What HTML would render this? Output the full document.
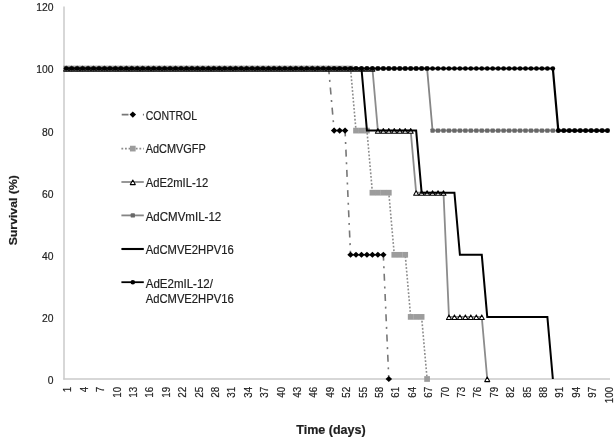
<!DOCTYPE html><html><head><meta charset="utf-8"><style>html,body{margin:0;padding:0;background:#fff;}svg{display:block;will-change:transform;}text{font-family:"Liberation Sans",sans-serif;}</style></head><body>
<svg width="616" height="441" viewBox="0 0 616 441">
<rect width="616" height="441" fill="#fff"/>
<line x1="64" y1="6.4" x2="64" y2="379.6" stroke="#cacaca" stroke-width="1.5"/>
<line x1="63.3" y1="379" x2="610" y2="379" stroke="#cacaca" stroke-width="1.5"/>
<text x="53.4" y="383.9" font-size="11.3" fill="#1e1e1e" stroke="#1e1e1e" stroke-width="0.2" text-anchor="end" textLength="5.75" lengthAdjust="spacingAndGlyphs">0</text>
<text x="53.4" y="321.8" font-size="11.3" fill="#1e1e1e" stroke="#1e1e1e" stroke-width="0.2" text-anchor="end" textLength="11.5" lengthAdjust="spacingAndGlyphs">20</text>
<text x="53.4" y="259.7" font-size="11.3" fill="#1e1e1e" stroke="#1e1e1e" stroke-width="0.2" text-anchor="end" textLength="11.5" lengthAdjust="spacingAndGlyphs">40</text>
<text x="53.4" y="197.6" font-size="11.3" fill="#1e1e1e" stroke="#1e1e1e" stroke-width="0.2" text-anchor="end" textLength="11.5" lengthAdjust="spacingAndGlyphs">60</text>
<text x="53.4" y="135.5" font-size="11.3" fill="#1e1e1e" stroke="#1e1e1e" stroke-width="0.2" text-anchor="end" textLength="11.5" lengthAdjust="spacingAndGlyphs">80</text>
<text x="53.4" y="73.4" font-size="11.3" fill="#1e1e1e" stroke="#1e1e1e" stroke-width="0.2" text-anchor="end" textLength="17.25" lengthAdjust="spacingAndGlyphs">100</text>
<text x="53.4" y="11.3" font-size="11.3" fill="#1e1e1e" stroke="#1e1e1e" stroke-width="0.2" text-anchor="end" textLength="17.25" lengthAdjust="spacingAndGlyphs">120</text>
<text transform="translate(67.3 386.9) rotate(-90)" font-size="10.8" fill="#1e1e1e" stroke="#1e1e1e" stroke-width="0.2" text-anchor="end" dominant-baseline="central" textLength="5.45" lengthAdjust="spacingAndGlyphs">1</text>
<text transform="translate(83.7 386.9) rotate(-90)" font-size="10.8" fill="#1e1e1e" stroke="#1e1e1e" stroke-width="0.2" text-anchor="end" dominant-baseline="central" textLength="5.45" lengthAdjust="spacingAndGlyphs">4</text>
<text transform="translate(100.11 386.9) rotate(-90)" font-size="10.8" fill="#1e1e1e" stroke="#1e1e1e" stroke-width="0.2" text-anchor="end" dominant-baseline="central" textLength="5.45" lengthAdjust="spacingAndGlyphs">7</text>
<text transform="translate(116.51 386.9) rotate(-90)" font-size="10.8" fill="#1e1e1e" stroke="#1e1e1e" stroke-width="0.2" text-anchor="end" dominant-baseline="central" textLength="10.9" lengthAdjust="spacingAndGlyphs">10</text>
<text transform="translate(132.92 386.9) rotate(-90)" font-size="10.8" fill="#1e1e1e" stroke="#1e1e1e" stroke-width="0.2" text-anchor="end" dominant-baseline="central" textLength="10.9" lengthAdjust="spacingAndGlyphs">13</text>
<text transform="translate(149.32 386.9) rotate(-90)" font-size="10.8" fill="#1e1e1e" stroke="#1e1e1e" stroke-width="0.2" text-anchor="end" dominant-baseline="central" textLength="10.9" lengthAdjust="spacingAndGlyphs">16</text>
<text transform="translate(165.72 386.9) rotate(-90)" font-size="10.8" fill="#1e1e1e" stroke="#1e1e1e" stroke-width="0.2" text-anchor="end" dominant-baseline="central" textLength="10.9" lengthAdjust="spacingAndGlyphs">19</text>
<text transform="translate(182.13 386.9) rotate(-90)" font-size="10.8" fill="#1e1e1e" stroke="#1e1e1e" stroke-width="0.2" text-anchor="end" dominant-baseline="central" textLength="10.9" lengthAdjust="spacingAndGlyphs">22</text>
<text transform="translate(198.53 386.9) rotate(-90)" font-size="10.8" fill="#1e1e1e" stroke="#1e1e1e" stroke-width="0.2" text-anchor="end" dominant-baseline="central" textLength="10.9" lengthAdjust="spacingAndGlyphs">25</text>
<text transform="translate(214.94 386.9) rotate(-90)" font-size="10.8" fill="#1e1e1e" stroke="#1e1e1e" stroke-width="0.2" text-anchor="end" dominant-baseline="central" textLength="10.9" lengthAdjust="spacingAndGlyphs">28</text>
<text transform="translate(231.34 386.9) rotate(-90)" font-size="10.8" fill="#1e1e1e" stroke="#1e1e1e" stroke-width="0.2" text-anchor="end" dominant-baseline="central" textLength="10.9" lengthAdjust="spacingAndGlyphs">31</text>
<text transform="translate(247.74 386.9) rotate(-90)" font-size="10.8" fill="#1e1e1e" stroke="#1e1e1e" stroke-width="0.2" text-anchor="end" dominant-baseline="central" textLength="10.9" lengthAdjust="spacingAndGlyphs">34</text>
<text transform="translate(264.15 386.9) rotate(-90)" font-size="10.8" fill="#1e1e1e" stroke="#1e1e1e" stroke-width="0.2" text-anchor="end" dominant-baseline="central" textLength="10.9" lengthAdjust="spacingAndGlyphs">37</text>
<text transform="translate(280.55 386.9) rotate(-90)" font-size="10.8" fill="#1e1e1e" stroke="#1e1e1e" stroke-width="0.2" text-anchor="end" dominant-baseline="central" textLength="10.9" lengthAdjust="spacingAndGlyphs">40</text>
<text transform="translate(296.96 386.9) rotate(-90)" font-size="10.8" fill="#1e1e1e" stroke="#1e1e1e" stroke-width="0.2" text-anchor="end" dominant-baseline="central" textLength="10.9" lengthAdjust="spacingAndGlyphs">43</text>
<text transform="translate(313.36 386.9) rotate(-90)" font-size="10.8" fill="#1e1e1e" stroke="#1e1e1e" stroke-width="0.2" text-anchor="end" dominant-baseline="central" textLength="10.9" lengthAdjust="spacingAndGlyphs">46</text>
<text transform="translate(329.76 386.9) rotate(-90)" font-size="10.8" fill="#1e1e1e" stroke="#1e1e1e" stroke-width="0.2" text-anchor="end" dominant-baseline="central" textLength="10.9" lengthAdjust="spacingAndGlyphs">49</text>
<text transform="translate(346.17 386.9) rotate(-90)" font-size="10.8" fill="#1e1e1e" stroke="#1e1e1e" stroke-width="0.2" text-anchor="end" dominant-baseline="central" textLength="10.9" lengthAdjust="spacingAndGlyphs">52</text>
<text transform="translate(362.57 386.9) rotate(-90)" font-size="10.8" fill="#1e1e1e" stroke="#1e1e1e" stroke-width="0.2" text-anchor="end" dominant-baseline="central" textLength="10.9" lengthAdjust="spacingAndGlyphs">55</text>
<text transform="translate(378.98 386.9) rotate(-90)" font-size="10.8" fill="#1e1e1e" stroke="#1e1e1e" stroke-width="0.2" text-anchor="end" dominant-baseline="central" textLength="10.9" lengthAdjust="spacingAndGlyphs">58</text>
<text transform="translate(395.38 386.9) rotate(-90)" font-size="10.8" fill="#1e1e1e" stroke="#1e1e1e" stroke-width="0.2" text-anchor="end" dominant-baseline="central" textLength="10.9" lengthAdjust="spacingAndGlyphs">61</text>
<text transform="translate(411.78 386.9) rotate(-90)" font-size="10.8" fill="#1e1e1e" stroke="#1e1e1e" stroke-width="0.2" text-anchor="end" dominant-baseline="central" textLength="10.9" lengthAdjust="spacingAndGlyphs">64</text>
<text transform="translate(428.19 386.9) rotate(-90)" font-size="10.8" fill="#1e1e1e" stroke="#1e1e1e" stroke-width="0.2" text-anchor="end" dominant-baseline="central" textLength="10.9" lengthAdjust="spacingAndGlyphs">67</text>
<text transform="translate(444.59 386.9) rotate(-90)" font-size="10.8" fill="#1e1e1e" stroke="#1e1e1e" stroke-width="0.2" text-anchor="end" dominant-baseline="central" textLength="10.9" lengthAdjust="spacingAndGlyphs">70</text>
<text transform="translate(461 386.9) rotate(-90)" font-size="10.8" fill="#1e1e1e" stroke="#1e1e1e" stroke-width="0.2" text-anchor="end" dominant-baseline="central" textLength="10.9" lengthAdjust="spacingAndGlyphs">73</text>
<text transform="translate(477.4 386.9) rotate(-90)" font-size="10.8" fill="#1e1e1e" stroke="#1e1e1e" stroke-width="0.2" text-anchor="end" dominant-baseline="central" textLength="10.9" lengthAdjust="spacingAndGlyphs">76</text>
<text transform="translate(493.8 386.9) rotate(-90)" font-size="10.8" fill="#1e1e1e" stroke="#1e1e1e" stroke-width="0.2" text-anchor="end" dominant-baseline="central" textLength="10.9" lengthAdjust="spacingAndGlyphs">79</text>
<text transform="translate(510.21 386.9) rotate(-90)" font-size="10.8" fill="#1e1e1e" stroke="#1e1e1e" stroke-width="0.2" text-anchor="end" dominant-baseline="central" textLength="10.9" lengthAdjust="spacingAndGlyphs">82</text>
<text transform="translate(526.61 386.9) rotate(-90)" font-size="10.8" fill="#1e1e1e" stroke="#1e1e1e" stroke-width="0.2" text-anchor="end" dominant-baseline="central" textLength="10.9" lengthAdjust="spacingAndGlyphs">85</text>
<text transform="translate(543.02 386.9) rotate(-90)" font-size="10.8" fill="#1e1e1e" stroke="#1e1e1e" stroke-width="0.2" text-anchor="end" dominant-baseline="central" textLength="10.9" lengthAdjust="spacingAndGlyphs">88</text>
<text transform="translate(559.42 386.9) rotate(-90)" font-size="10.8" fill="#1e1e1e" stroke="#1e1e1e" stroke-width="0.2" text-anchor="end" dominant-baseline="central" textLength="10.9" lengthAdjust="spacingAndGlyphs">91</text>
<text transform="translate(575.82 386.9) rotate(-90)" font-size="10.8" fill="#1e1e1e" stroke="#1e1e1e" stroke-width="0.2" text-anchor="end" dominant-baseline="central" textLength="10.9" lengthAdjust="spacingAndGlyphs">94</text>
<text transform="translate(592.23 386.9) rotate(-90)" font-size="10.8" fill="#1e1e1e" stroke="#1e1e1e" stroke-width="0.2" text-anchor="end" dominant-baseline="central" textLength="10.9" lengthAdjust="spacingAndGlyphs">97</text>
<text transform="translate(608.63 386.9) rotate(-90)" font-size="10.8" fill="#1e1e1e" stroke="#1e1e1e" stroke-width="0.2" text-anchor="end" dominant-baseline="central" textLength="16.35" lengthAdjust="spacingAndGlyphs">100</text>
<text x="331" y="434" font-size="12" font-weight="bold" fill="#1e1e1e" stroke="#1e1e1e" stroke-width="0.2" text-anchor="middle" textLength="69.4" lengthAdjust="spacingAndGlyphs">Time (days)</text>
<text transform="translate(17.3 210.2) rotate(-90)" font-size="11.8" font-weight="bold" fill="#1e1e1e" stroke="#1e1e1e" stroke-width="0.2" text-anchor="middle" textLength="70.3" lengthAdjust="spacingAndGlyphs">Survival (%)</text>
<path d="M66.2 68.5 L71.67 68.5" fill="none" stroke="#777777" stroke-width="1.6"/>
<path d="M71.67 68.5 L77.14 68.5" fill="none" stroke="#777777" stroke-width="1.6"/>
<path d="M77.14 68.5 L82.6 68.5" fill="none" stroke="#777777" stroke-width="1.6"/>
<path d="M82.6 68.5 L88.07 68.5" fill="none" stroke="#777777" stroke-width="1.6"/>
<path d="M88.07 68.5 L93.54 68.5" fill="none" stroke="#777777" stroke-width="1.6"/>
<path d="M93.54 68.5 L99.01 68.5" fill="none" stroke="#777777" stroke-width="1.6"/>
<path d="M99.01 68.5 L104.48 68.5" fill="none" stroke="#777777" stroke-width="1.6"/>
<path d="M104.48 68.5 L109.94 68.5" fill="none" stroke="#777777" stroke-width="1.6"/>
<path d="M109.94 68.5 L115.41 68.5" fill="none" stroke="#777777" stroke-width="1.6"/>
<path d="M115.41 68.5 L120.88 68.5" fill="none" stroke="#777777" stroke-width="1.6"/>
<path d="M120.88 68.5 L126.35 68.5" fill="none" stroke="#777777" stroke-width="1.6"/>
<path d="M126.35 68.5 L131.82 68.5" fill="none" stroke="#777777" stroke-width="1.6"/>
<path d="M131.82 68.5 L137.28 68.5" fill="none" stroke="#777777" stroke-width="1.6"/>
<path d="M137.28 68.5 L142.75 68.5" fill="none" stroke="#777777" stroke-width="1.6"/>
<path d="M142.75 68.5 L148.22 68.5" fill="none" stroke="#777777" stroke-width="1.6"/>
<path d="M148.22 68.5 L153.69 68.5" fill="none" stroke="#777777" stroke-width="1.6"/>
<path d="M153.69 68.5 L159.16 68.5" fill="none" stroke="#777777" stroke-width="1.6"/>
<path d="M159.16 68.5 L164.62 68.5" fill="none" stroke="#777777" stroke-width="1.6"/>
<path d="M164.62 68.5 L170.09 68.5" fill="none" stroke="#777777" stroke-width="1.6"/>
<path d="M170.09 68.5 L175.56 68.5" fill="none" stroke="#777777" stroke-width="1.6"/>
<path d="M175.56 68.5 L181.03 68.5" fill="none" stroke="#777777" stroke-width="1.6"/>
<path d="M181.03 68.5 L186.5 68.5" fill="none" stroke="#777777" stroke-width="1.6"/>
<path d="M186.5 68.5 L191.96 68.5" fill="none" stroke="#777777" stroke-width="1.6"/>
<path d="M191.96 68.5 L197.43 68.5" fill="none" stroke="#777777" stroke-width="1.6"/>
<path d="M197.43 68.5 L202.9 68.5" fill="none" stroke="#777777" stroke-width="1.6"/>
<path d="M202.9 68.5 L208.37 68.5" fill="none" stroke="#777777" stroke-width="1.6"/>
<path d="M208.37 68.5 L213.84 68.5" fill="none" stroke="#777777" stroke-width="1.6"/>
<path d="M213.84 68.5 L219.3 68.5" fill="none" stroke="#777777" stroke-width="1.6"/>
<path d="M219.3 68.5 L224.77 68.5" fill="none" stroke="#777777" stroke-width="1.6"/>
<path d="M224.77 68.5 L230.24 68.5" fill="none" stroke="#777777" stroke-width="1.6"/>
<path d="M230.24 68.5 L235.71 68.5" fill="none" stroke="#777777" stroke-width="1.6"/>
<path d="M235.71 68.5 L241.18 68.5" fill="none" stroke="#777777" stroke-width="1.6"/>
<path d="M241.18 68.5 L246.64 68.5" fill="none" stroke="#777777" stroke-width="1.6"/>
<path d="M246.64 68.5 L252.11 68.5" fill="none" stroke="#777777" stroke-width="1.6"/>
<path d="M252.11 68.5 L257.58 68.5" fill="none" stroke="#777777" stroke-width="1.6"/>
<path d="M257.58 68.5 L263.05 68.5" fill="none" stroke="#777777" stroke-width="1.6"/>
<path d="M263.05 68.5 L268.52 68.5" fill="none" stroke="#777777" stroke-width="1.6"/>
<path d="M268.52 68.5 L273.98 68.5" fill="none" stroke="#777777" stroke-width="1.6"/>
<path d="M273.98 68.5 L279.45 68.5" fill="none" stroke="#777777" stroke-width="1.6"/>
<path d="M279.45 68.5 L284.92 68.5" fill="none" stroke="#777777" stroke-width="1.6"/>
<path d="M284.92 68.5 L290.39 68.5" fill="none" stroke="#777777" stroke-width="1.6"/>
<path d="M290.39 68.5 L295.86 68.5" fill="none" stroke="#777777" stroke-width="1.6"/>
<path d="M295.86 68.5 L301.32 68.5" fill="none" stroke="#777777" stroke-width="1.6"/>
<path d="M301.32 68.5 L306.79 68.5" fill="none" stroke="#777777" stroke-width="1.6"/>
<path d="M306.79 68.5 L312.26 68.5" fill="none" stroke="#777777" stroke-width="1.6"/>
<path d="M312.26 68.5 L317.73 68.5" fill="none" stroke="#777777" stroke-width="1.6"/>
<path d="M317.73 68.5 L323.2 68.5" fill="none" stroke="#777777" stroke-width="1.6"/>
<path d="M323.2 68.5 L328.66 68.5" fill="none" stroke="#777777" stroke-width="1.6"/>
<path d="M328.66 68.5 L334.13 130.6" fill="none" stroke="#777777" stroke-width="1.6" stroke-dasharray="7 5.6 2 5.65" stroke-dashoffset="1.2"/>
<path d="M334.13 130.6 L339.6 130.6" fill="none" stroke="#777777" stroke-width="1.6"/>
<path d="M339.6 130.6 L345.07 130.6" fill="none" stroke="#777777" stroke-width="1.6"/>
<path d="M345.07 130.6 L350.54 254.8" fill="none" stroke="#777777" stroke-width="1.6" stroke-dasharray="7 5.6 2 5.65" stroke-dashoffset="1.2"/>
<path d="M350.54 254.8 L356 254.8" fill="none" stroke="#777777" stroke-width="1.6"/>
<path d="M356 254.8 L361.47 254.8" fill="none" stroke="#777777" stroke-width="1.6"/>
<path d="M361.47 254.8 L366.94 254.8" fill="none" stroke="#777777" stroke-width="1.6"/>
<path d="M366.94 254.8 L372.41 254.8" fill="none" stroke="#777777" stroke-width="1.6"/>
<path d="M372.41 254.8 L377.88 254.8" fill="none" stroke="#777777" stroke-width="1.6"/>
<path d="M377.88 254.8 L383.34 254.8" fill="none" stroke="#777777" stroke-width="1.6"/>
<path d="M383.34 254.8 L388.81 379" fill="none" stroke="#777777" stroke-width="1.6" stroke-dasharray="7 5.6 2 5.65" stroke-dashoffset="1.2"/>
<path d="M66.2 65.45L69.45 68.5L66.2 71.55L62.95 68.5Z" fill="#000"/>
<path d="M71.67 65.45L74.92 68.5L71.67 71.55L68.42 68.5Z" fill="#000"/>
<path d="M77.14 65.45L80.39 68.5L77.14 71.55L73.89 68.5Z" fill="#000"/>
<path d="M82.6 65.45L85.85 68.5L82.6 71.55L79.35 68.5Z" fill="#000"/>
<path d="M88.07 65.45L91.32 68.5L88.07 71.55L84.82 68.5Z" fill="#000"/>
<path d="M93.54 65.45L96.79 68.5L93.54 71.55L90.29 68.5Z" fill="#000"/>
<path d="M99.01 65.45L102.26 68.5L99.01 71.55L95.76 68.5Z" fill="#000"/>
<path d="M104.48 65.45L107.73 68.5L104.48 71.55L101.23 68.5Z" fill="#000"/>
<path d="M109.94 65.45L113.19 68.5L109.94 71.55L106.69 68.5Z" fill="#000"/>
<path d="M115.41 65.45L118.66 68.5L115.41 71.55L112.16 68.5Z" fill="#000"/>
<path d="M120.88 65.45L124.13 68.5L120.88 71.55L117.63 68.5Z" fill="#000"/>
<path d="M126.35 65.45L129.6 68.5L126.35 71.55L123.1 68.5Z" fill="#000"/>
<path d="M131.82 65.45L135.07 68.5L131.82 71.55L128.57 68.5Z" fill="#000"/>
<path d="M137.28 65.45L140.53 68.5L137.28 71.55L134.03 68.5Z" fill="#000"/>
<path d="M142.75 65.45L146 68.5L142.75 71.55L139.5 68.5Z" fill="#000"/>
<path d="M148.22 65.45L151.47 68.5L148.22 71.55L144.97 68.5Z" fill="#000"/>
<path d="M153.69 65.45L156.94 68.5L153.69 71.55L150.44 68.5Z" fill="#000"/>
<path d="M159.16 65.45L162.41 68.5L159.16 71.55L155.91 68.5Z" fill="#000"/>
<path d="M164.62 65.45L167.87 68.5L164.62 71.55L161.37 68.5Z" fill="#000"/>
<path d="M170.09 65.45L173.34 68.5L170.09 71.55L166.84 68.5Z" fill="#000"/>
<path d="M175.56 65.45L178.81 68.5L175.56 71.55L172.31 68.5Z" fill="#000"/>
<path d="M181.03 65.45L184.28 68.5L181.03 71.55L177.78 68.5Z" fill="#000"/>
<path d="M186.5 65.45L189.75 68.5L186.5 71.55L183.25 68.5Z" fill="#000"/>
<path d="M191.96 65.45L195.21 68.5L191.96 71.55L188.71 68.5Z" fill="#000"/>
<path d="M197.43 65.45L200.68 68.5L197.43 71.55L194.18 68.5Z" fill="#000"/>
<path d="M202.9 65.45L206.15 68.5L202.9 71.55L199.65 68.5Z" fill="#000"/>
<path d="M208.37 65.45L211.62 68.5L208.37 71.55L205.12 68.5Z" fill="#000"/>
<path d="M213.84 65.45L217.09 68.5L213.84 71.55L210.59 68.5Z" fill="#000"/>
<path d="M219.3 65.45L222.55 68.5L219.3 71.55L216.05 68.5Z" fill="#000"/>
<path d="M224.77 65.45L228.02 68.5L224.77 71.55L221.52 68.5Z" fill="#000"/>
<path d="M230.24 65.45L233.49 68.5L230.24 71.55L226.99 68.5Z" fill="#000"/>
<path d="M235.71 65.45L238.96 68.5L235.71 71.55L232.46 68.5Z" fill="#000"/>
<path d="M241.18 65.45L244.43 68.5L241.18 71.55L237.93 68.5Z" fill="#000"/>
<path d="M246.64 65.45L249.89 68.5L246.64 71.55L243.39 68.5Z" fill="#000"/>
<path d="M252.11 65.45L255.36 68.5L252.11 71.55L248.86 68.5Z" fill="#000"/>
<path d="M257.58 65.45L260.83 68.5L257.58 71.55L254.33 68.5Z" fill="#000"/>
<path d="M263.05 65.45L266.3 68.5L263.05 71.55L259.8 68.5Z" fill="#000"/>
<path d="M268.52 65.45L271.77 68.5L268.52 71.55L265.27 68.5Z" fill="#000"/>
<path d="M273.98 65.45L277.23 68.5L273.98 71.55L270.73 68.5Z" fill="#000"/>
<path d="M279.45 65.45L282.7 68.5L279.45 71.55L276.2 68.5Z" fill="#000"/>
<path d="M284.92 65.45L288.17 68.5L284.92 71.55L281.67 68.5Z" fill="#000"/>
<path d="M290.39 65.45L293.64 68.5L290.39 71.55L287.14 68.5Z" fill="#000"/>
<path d="M295.86 65.45L299.11 68.5L295.86 71.55L292.61 68.5Z" fill="#000"/>
<path d="M301.32 65.45L304.57 68.5L301.32 71.55L298.07 68.5Z" fill="#000"/>
<path d="M306.79 65.45L310.04 68.5L306.79 71.55L303.54 68.5Z" fill="#000"/>
<path d="M312.26 65.45L315.51 68.5L312.26 71.55L309.01 68.5Z" fill="#000"/>
<path d="M317.73 65.45L320.98 68.5L317.73 71.55L314.48 68.5Z" fill="#000"/>
<path d="M323.2 65.45L326.45 68.5L323.2 71.55L319.95 68.5Z" fill="#000"/>
<path d="M328.66 65.45L331.91 68.5L328.66 71.55L325.41 68.5Z" fill="#000"/>
<path d="M334.13 127.55L337.38 130.6L334.13 133.65L330.88 130.6Z" fill="#000"/>
<path d="M339.6 127.55L342.85 130.6L339.6 133.65L336.35 130.6Z" fill="#000"/>
<path d="M345.07 127.55L348.32 130.6L345.07 133.65L341.82 130.6Z" fill="#000"/>
<path d="M350.54 251.75L353.79 254.8L350.54 257.85L347.29 254.8Z" fill="#000"/>
<path d="M356 251.75L359.25 254.8L356 257.85L352.75 254.8Z" fill="#000"/>
<path d="M361.47 251.75L364.72 254.8L361.47 257.85L358.22 254.8Z" fill="#000"/>
<path d="M366.94 251.75L370.19 254.8L366.94 257.85L363.69 254.8Z" fill="#000"/>
<path d="M372.41 251.75L375.66 254.8L372.41 257.85L369.16 254.8Z" fill="#000"/>
<path d="M377.88 251.75L381.13 254.8L377.88 257.85L374.63 254.8Z" fill="#000"/>
<path d="M383.34 251.75L386.59 254.8L383.34 257.85L380.09 254.8Z" fill="#000"/>
<path d="M388.81 375.95L392.06 379L388.81 382.05L385.56 379Z" fill="#000"/>
<path d="M66.2 68.5 L71.67 68.5 L77.14 68.5 L82.6 68.5 L88.07 68.5 L93.54 68.5 L99.01 68.5 L104.48 68.5 L109.94 68.5 L115.41 68.5 L120.88 68.5 L126.35 68.5 L131.82 68.5 L137.28 68.5 L142.75 68.5 L148.22 68.5 L153.69 68.5 L159.16 68.5 L164.62 68.5 L170.09 68.5 L175.56 68.5 L181.03 68.5 L186.5 68.5 L191.96 68.5 L197.43 68.5 L202.9 68.5 L208.37 68.5 L213.84 68.5 L219.3 68.5 L224.77 68.5 L230.24 68.5 L235.71 68.5 L241.18 68.5 L246.64 68.5 L252.11 68.5 L257.58 68.5 L263.05 68.5 L268.52 68.5 L273.98 68.5 L279.45 68.5 L284.92 68.5 L290.39 68.5 L295.86 68.5 L301.32 68.5 L306.79 68.5 L312.26 68.5 L317.73 68.5 L323.2 68.5 L328.66 68.5 L334.13 68.5 L339.6 68.5 L345.07 68.5 L350.54 68.5 L356 130.6 L361.47 130.6 L366.94 130.6 L372.41 192.7 L377.88 192.7 L383.34 192.7 L388.81 192.7 L394.28 254.8 L399.75 254.8 L405.22 254.8 L410.68 316.9 L416.15 316.9 L421.62 316.9 L427.09 379" fill="none" stroke="#8c8c8c" stroke-width="1.6" stroke-dasharray="1.8 1.8"/>
<rect x="63.35" y="65.65" width="5.7" height="5.7" fill="#9c9c9c"/>
<rect x="68.82" y="65.65" width="5.7" height="5.7" fill="#9c9c9c"/>
<rect x="74.29" y="65.65" width="5.7" height="5.7" fill="#9c9c9c"/>
<rect x="79.75" y="65.65" width="5.7" height="5.7" fill="#9c9c9c"/>
<rect x="85.22" y="65.65" width="5.7" height="5.7" fill="#9c9c9c"/>
<rect x="90.69" y="65.65" width="5.7" height="5.7" fill="#9c9c9c"/>
<rect x="96.16" y="65.65" width="5.7" height="5.7" fill="#9c9c9c"/>
<rect x="101.63" y="65.65" width="5.7" height="5.7" fill="#9c9c9c"/>
<rect x="107.09" y="65.65" width="5.7" height="5.7" fill="#9c9c9c"/>
<rect x="112.56" y="65.65" width="5.7" height="5.7" fill="#9c9c9c"/>
<rect x="118.03" y="65.65" width="5.7" height="5.7" fill="#9c9c9c"/>
<rect x="123.5" y="65.65" width="5.7" height="5.7" fill="#9c9c9c"/>
<rect x="128.97" y="65.65" width="5.7" height="5.7" fill="#9c9c9c"/>
<rect x="134.43" y="65.65" width="5.7" height="5.7" fill="#9c9c9c"/>
<rect x="139.9" y="65.65" width="5.7" height="5.7" fill="#9c9c9c"/>
<rect x="145.37" y="65.65" width="5.7" height="5.7" fill="#9c9c9c"/>
<rect x="150.84" y="65.65" width="5.7" height="5.7" fill="#9c9c9c"/>
<rect x="156.31" y="65.65" width="5.7" height="5.7" fill="#9c9c9c"/>
<rect x="161.77" y="65.65" width="5.7" height="5.7" fill="#9c9c9c"/>
<rect x="167.24" y="65.65" width="5.7" height="5.7" fill="#9c9c9c"/>
<rect x="172.71" y="65.65" width="5.7" height="5.7" fill="#9c9c9c"/>
<rect x="178.18" y="65.65" width="5.7" height="5.7" fill="#9c9c9c"/>
<rect x="183.65" y="65.65" width="5.7" height="5.7" fill="#9c9c9c"/>
<rect x="189.11" y="65.65" width="5.7" height="5.7" fill="#9c9c9c"/>
<rect x="194.58" y="65.65" width="5.7" height="5.7" fill="#9c9c9c"/>
<rect x="200.05" y="65.65" width="5.7" height="5.7" fill="#9c9c9c"/>
<rect x="205.52" y="65.65" width="5.7" height="5.7" fill="#9c9c9c"/>
<rect x="210.99" y="65.65" width="5.7" height="5.7" fill="#9c9c9c"/>
<rect x="216.45" y="65.65" width="5.7" height="5.7" fill="#9c9c9c"/>
<rect x="221.92" y="65.65" width="5.7" height="5.7" fill="#9c9c9c"/>
<rect x="227.39" y="65.65" width="5.7" height="5.7" fill="#9c9c9c"/>
<rect x="232.86" y="65.65" width="5.7" height="5.7" fill="#9c9c9c"/>
<rect x="238.33" y="65.65" width="5.7" height="5.7" fill="#9c9c9c"/>
<rect x="243.79" y="65.65" width="5.7" height="5.7" fill="#9c9c9c"/>
<rect x="249.26" y="65.65" width="5.7" height="5.7" fill="#9c9c9c"/>
<rect x="254.73" y="65.65" width="5.7" height="5.7" fill="#9c9c9c"/>
<rect x="260.2" y="65.65" width="5.7" height="5.7" fill="#9c9c9c"/>
<rect x="265.67" y="65.65" width="5.7" height="5.7" fill="#9c9c9c"/>
<rect x="271.13" y="65.65" width="5.7" height="5.7" fill="#9c9c9c"/>
<rect x="276.6" y="65.65" width="5.7" height="5.7" fill="#9c9c9c"/>
<rect x="282.07" y="65.65" width="5.7" height="5.7" fill="#9c9c9c"/>
<rect x="287.54" y="65.65" width="5.7" height="5.7" fill="#9c9c9c"/>
<rect x="293.01" y="65.65" width="5.7" height="5.7" fill="#9c9c9c"/>
<rect x="298.47" y="65.65" width="5.7" height="5.7" fill="#9c9c9c"/>
<rect x="303.94" y="65.65" width="5.7" height="5.7" fill="#9c9c9c"/>
<rect x="309.41" y="65.65" width="5.7" height="5.7" fill="#9c9c9c"/>
<rect x="314.88" y="65.65" width="5.7" height="5.7" fill="#9c9c9c"/>
<rect x="320.35" y="65.65" width="5.7" height="5.7" fill="#9c9c9c"/>
<rect x="325.81" y="65.65" width="5.7" height="5.7" fill="#9c9c9c"/>
<rect x="331.28" y="65.65" width="5.7" height="5.7" fill="#9c9c9c"/>
<rect x="336.75" y="65.65" width="5.7" height="5.7" fill="#9c9c9c"/>
<rect x="342.22" y="65.65" width="5.7" height="5.7" fill="#9c9c9c"/>
<rect x="347.69" y="65.65" width="5.7" height="5.7" fill="#9c9c9c"/>
<rect x="353.15" y="127.75" width="5.7" height="5.7" fill="#9c9c9c"/>
<rect x="358.62" y="127.75" width="5.7" height="5.7" fill="#9c9c9c"/>
<rect x="364.09" y="127.75" width="5.7" height="5.7" fill="#9c9c9c"/>
<rect x="369.56" y="189.85" width="5.7" height="5.7" fill="#9c9c9c"/>
<rect x="375.03" y="189.85" width="5.7" height="5.7" fill="#9c9c9c"/>
<rect x="380.49" y="189.85" width="5.7" height="5.7" fill="#9c9c9c"/>
<rect x="385.96" y="189.85" width="5.7" height="5.7" fill="#9c9c9c"/>
<rect x="391.43" y="251.95" width="5.7" height="5.7" fill="#9c9c9c"/>
<rect x="396.9" y="251.95" width="5.7" height="5.7" fill="#9c9c9c"/>
<rect x="402.37" y="251.95" width="5.7" height="5.7" fill="#9c9c9c"/>
<rect x="407.83" y="314.05" width="5.7" height="5.7" fill="#9c9c9c"/>
<rect x="413.3" y="314.05" width="5.7" height="5.7" fill="#9c9c9c"/>
<rect x="418.77" y="314.05" width="5.7" height="5.7" fill="#9c9c9c"/>
<rect x="424.24" y="376.15" width="5.7" height="5.7" fill="#9c9c9c"/>
<path d="M66.2 68.5 L71.67 68.5 L77.14 68.5 L82.6 68.5 L88.07 68.5 L93.54 68.5 L99.01 68.5 L104.48 68.5 L109.94 68.5 L115.41 68.5 L120.88 68.5 L126.35 68.5 L131.82 68.5 L137.28 68.5 L142.75 68.5 L148.22 68.5 L153.69 68.5 L159.16 68.5 L164.62 68.5 L170.09 68.5 L175.56 68.5 L181.03 68.5 L186.5 68.5 L191.96 68.5 L197.43 68.5 L202.9 68.5 L208.37 68.5 L213.84 68.5 L219.3 68.5 L224.77 68.5 L230.24 68.5 L235.71 68.5 L241.18 68.5 L246.64 68.5 L252.11 68.5 L257.58 68.5 L263.05 68.5 L268.52 68.5 L273.98 68.5 L279.45 68.5 L284.92 68.5 L290.39 68.5 L295.86 68.5 L301.32 68.5 L306.79 68.5 L312.26 68.5 L317.73 68.5 L323.2 68.5 L328.66 68.5 L334.13 68.5 L339.6 68.5 L345.07 68.5 L350.54 68.5 L356 68.5 L361.47 68.5 L366.94 68.5 L372.41 68.5 L377.88 130.6 L383.34 130.6 L388.81 130.6 L394.28 130.6 L399.75 130.6 L405.22 130.6 L410.68 130.6 L416.15 192.7 L421.62 192.7 L427.09 192.7 L432.56 192.7 L438.02 192.7 L443.49 192.7 L448.96 316.9 L454.43 316.9 L459.9 316.9 L465.36 316.9 L470.83 316.9 L476.3 316.9 L481.77 316.9 L487.24 379" fill="none" stroke="#8c8c8c" stroke-width="1.8"/>
<path d="M66.2 66.5L68.7 71.1L63.7 71.1Z" fill="#fff" stroke="#000" stroke-width="1.05" stroke-linejoin="round"/>
<path d="M71.67 66.5L74.17 71.1L69.17 71.1Z" fill="#fff" stroke="#000" stroke-width="1.05" stroke-linejoin="round"/>
<path d="M77.14 66.5L79.64 71.1L74.64 71.1Z" fill="#fff" stroke="#000" stroke-width="1.05" stroke-linejoin="round"/>
<path d="M82.6 66.5L85.1 71.1L80.1 71.1Z" fill="#fff" stroke="#000" stroke-width="1.05" stroke-linejoin="round"/>
<path d="M88.07 66.5L90.57 71.1L85.57 71.1Z" fill="#fff" stroke="#000" stroke-width="1.05" stroke-linejoin="round"/>
<path d="M93.54 66.5L96.04 71.1L91.04 71.1Z" fill="#fff" stroke="#000" stroke-width="1.05" stroke-linejoin="round"/>
<path d="M99.01 66.5L101.51 71.1L96.51 71.1Z" fill="#fff" stroke="#000" stroke-width="1.05" stroke-linejoin="round"/>
<path d="M104.48 66.5L106.98 71.1L101.98 71.1Z" fill="#fff" stroke="#000" stroke-width="1.05" stroke-linejoin="round"/>
<path d="M109.94 66.5L112.44 71.1L107.44 71.1Z" fill="#fff" stroke="#000" stroke-width="1.05" stroke-linejoin="round"/>
<path d="M115.41 66.5L117.91 71.1L112.91 71.1Z" fill="#fff" stroke="#000" stroke-width="1.05" stroke-linejoin="round"/>
<path d="M120.88 66.5L123.38 71.1L118.38 71.1Z" fill="#fff" stroke="#000" stroke-width="1.05" stroke-linejoin="round"/>
<path d="M126.35 66.5L128.85 71.1L123.85 71.1Z" fill="#fff" stroke="#000" stroke-width="1.05" stroke-linejoin="round"/>
<path d="M131.82 66.5L134.32 71.1L129.32 71.1Z" fill="#fff" stroke="#000" stroke-width="1.05" stroke-linejoin="round"/>
<path d="M137.28 66.5L139.78 71.1L134.78 71.1Z" fill="#fff" stroke="#000" stroke-width="1.05" stroke-linejoin="round"/>
<path d="M142.75 66.5L145.25 71.1L140.25 71.1Z" fill="#fff" stroke="#000" stroke-width="1.05" stroke-linejoin="round"/>
<path d="M148.22 66.5L150.72 71.1L145.72 71.1Z" fill="#fff" stroke="#000" stroke-width="1.05" stroke-linejoin="round"/>
<path d="M153.69 66.5L156.19 71.1L151.19 71.1Z" fill="#fff" stroke="#000" stroke-width="1.05" stroke-linejoin="round"/>
<path d="M159.16 66.5L161.66 71.1L156.66 71.1Z" fill="#fff" stroke="#000" stroke-width="1.05" stroke-linejoin="round"/>
<path d="M164.62 66.5L167.12 71.1L162.12 71.1Z" fill="#fff" stroke="#000" stroke-width="1.05" stroke-linejoin="round"/>
<path d="M170.09 66.5L172.59 71.1L167.59 71.1Z" fill="#fff" stroke="#000" stroke-width="1.05" stroke-linejoin="round"/>
<path d="M175.56 66.5L178.06 71.1L173.06 71.1Z" fill="#fff" stroke="#000" stroke-width="1.05" stroke-linejoin="round"/>
<path d="M181.03 66.5L183.53 71.1L178.53 71.1Z" fill="#fff" stroke="#000" stroke-width="1.05" stroke-linejoin="round"/>
<path d="M186.5 66.5L189 71.1L184 71.1Z" fill="#fff" stroke="#000" stroke-width="1.05" stroke-linejoin="round"/>
<path d="M191.96 66.5L194.46 71.1L189.46 71.1Z" fill="#fff" stroke="#000" stroke-width="1.05" stroke-linejoin="round"/>
<path d="M197.43 66.5L199.93 71.1L194.93 71.1Z" fill="#fff" stroke="#000" stroke-width="1.05" stroke-linejoin="round"/>
<path d="M202.9 66.5L205.4 71.1L200.4 71.1Z" fill="#fff" stroke="#000" stroke-width="1.05" stroke-linejoin="round"/>
<path d="M208.37 66.5L210.87 71.1L205.87 71.1Z" fill="#fff" stroke="#000" stroke-width="1.05" stroke-linejoin="round"/>
<path d="M213.84 66.5L216.34 71.1L211.34 71.1Z" fill="#fff" stroke="#000" stroke-width="1.05" stroke-linejoin="round"/>
<path d="M219.3 66.5L221.8 71.1L216.8 71.1Z" fill="#fff" stroke="#000" stroke-width="1.05" stroke-linejoin="round"/>
<path d="M224.77 66.5L227.27 71.1L222.27 71.1Z" fill="#fff" stroke="#000" stroke-width="1.05" stroke-linejoin="round"/>
<path d="M230.24 66.5L232.74 71.1L227.74 71.1Z" fill="#fff" stroke="#000" stroke-width="1.05" stroke-linejoin="round"/>
<path d="M235.71 66.5L238.21 71.1L233.21 71.1Z" fill="#fff" stroke="#000" stroke-width="1.05" stroke-linejoin="round"/>
<path d="M241.18 66.5L243.68 71.1L238.68 71.1Z" fill="#fff" stroke="#000" stroke-width="1.05" stroke-linejoin="round"/>
<path d="M246.64 66.5L249.14 71.1L244.14 71.1Z" fill="#fff" stroke="#000" stroke-width="1.05" stroke-linejoin="round"/>
<path d="M252.11 66.5L254.61 71.1L249.61 71.1Z" fill="#fff" stroke="#000" stroke-width="1.05" stroke-linejoin="round"/>
<path d="M257.58 66.5L260.08 71.1L255.08 71.1Z" fill="#fff" stroke="#000" stroke-width="1.05" stroke-linejoin="round"/>
<path d="M263.05 66.5L265.55 71.1L260.55 71.1Z" fill="#fff" stroke="#000" stroke-width="1.05" stroke-linejoin="round"/>
<path d="M268.52 66.5L271.02 71.1L266.02 71.1Z" fill="#fff" stroke="#000" stroke-width="1.05" stroke-linejoin="round"/>
<path d="M273.98 66.5L276.48 71.1L271.48 71.1Z" fill="#fff" stroke="#000" stroke-width="1.05" stroke-linejoin="round"/>
<path d="M279.45 66.5L281.95 71.1L276.95 71.1Z" fill="#fff" stroke="#000" stroke-width="1.05" stroke-linejoin="round"/>
<path d="M284.92 66.5L287.42 71.1L282.42 71.1Z" fill="#fff" stroke="#000" stroke-width="1.05" stroke-linejoin="round"/>
<path d="M290.39 66.5L292.89 71.1L287.89 71.1Z" fill="#fff" stroke="#000" stroke-width="1.05" stroke-linejoin="round"/>
<path d="M295.86 66.5L298.36 71.1L293.36 71.1Z" fill="#fff" stroke="#000" stroke-width="1.05" stroke-linejoin="round"/>
<path d="M301.32 66.5L303.82 71.1L298.82 71.1Z" fill="#fff" stroke="#000" stroke-width="1.05" stroke-linejoin="round"/>
<path d="M306.79 66.5L309.29 71.1L304.29 71.1Z" fill="#fff" stroke="#000" stroke-width="1.05" stroke-linejoin="round"/>
<path d="M312.26 66.5L314.76 71.1L309.76 71.1Z" fill="#fff" stroke="#000" stroke-width="1.05" stroke-linejoin="round"/>
<path d="M317.73 66.5L320.23 71.1L315.23 71.1Z" fill="#fff" stroke="#000" stroke-width="1.05" stroke-linejoin="round"/>
<path d="M323.2 66.5L325.7 71.1L320.7 71.1Z" fill="#fff" stroke="#000" stroke-width="1.05" stroke-linejoin="round"/>
<path d="M328.66 66.5L331.16 71.1L326.16 71.1Z" fill="#fff" stroke="#000" stroke-width="1.05" stroke-linejoin="round"/>
<path d="M334.13 66.5L336.63 71.1L331.63 71.1Z" fill="#fff" stroke="#000" stroke-width="1.05" stroke-linejoin="round"/>
<path d="M339.6 66.5L342.1 71.1L337.1 71.1Z" fill="#fff" stroke="#000" stroke-width="1.05" stroke-linejoin="round"/>
<path d="M345.07 66.5L347.57 71.1L342.57 71.1Z" fill="#fff" stroke="#000" stroke-width="1.05" stroke-linejoin="round"/>
<path d="M350.54 66.5L353.04 71.1L348.04 71.1Z" fill="#fff" stroke="#000" stroke-width="1.05" stroke-linejoin="round"/>
<path d="M356 66.5L358.5 71.1L353.5 71.1Z" fill="#fff" stroke="#000" stroke-width="1.05" stroke-linejoin="round"/>
<path d="M361.47 66.5L363.97 71.1L358.97 71.1Z" fill="#fff" stroke="#000" stroke-width="1.05" stroke-linejoin="round"/>
<path d="M366.94 66.5L369.44 71.1L364.44 71.1Z" fill="#fff" stroke="#000" stroke-width="1.05" stroke-linejoin="round"/>
<path d="M372.41 66.5L374.91 71.1L369.91 71.1Z" fill="#fff" stroke="#000" stroke-width="1.05" stroke-linejoin="round"/>
<path d="M377.88 128.6L380.38 133.2L375.38 133.2Z" fill="#fff" stroke="#000" stroke-width="1.05" stroke-linejoin="round"/>
<path d="M383.34 128.6L385.84 133.2L380.84 133.2Z" fill="#fff" stroke="#000" stroke-width="1.05" stroke-linejoin="round"/>
<path d="M388.81 128.6L391.31 133.2L386.31 133.2Z" fill="#fff" stroke="#000" stroke-width="1.05" stroke-linejoin="round"/>
<path d="M394.28 128.6L396.78 133.2L391.78 133.2Z" fill="#fff" stroke="#000" stroke-width="1.05" stroke-linejoin="round"/>
<path d="M399.75 128.6L402.25 133.2L397.25 133.2Z" fill="#fff" stroke="#000" stroke-width="1.05" stroke-linejoin="round"/>
<path d="M405.22 128.6L407.72 133.2L402.72 133.2Z" fill="#fff" stroke="#000" stroke-width="1.05" stroke-linejoin="round"/>
<path d="M410.68 128.6L413.18 133.2L408.18 133.2Z" fill="#fff" stroke="#000" stroke-width="1.05" stroke-linejoin="round"/>
<path d="M416.15 190.7L418.65 195.3L413.65 195.3Z" fill="#fff" stroke="#000" stroke-width="1.05" stroke-linejoin="round"/>
<path d="M421.62 190.7L424.12 195.3L419.12 195.3Z" fill="#fff" stroke="#000" stroke-width="1.05" stroke-linejoin="round"/>
<path d="M427.09 190.7L429.59 195.3L424.59 195.3Z" fill="#fff" stroke="#000" stroke-width="1.05" stroke-linejoin="round"/>
<path d="M432.56 190.7L435.06 195.3L430.06 195.3Z" fill="#fff" stroke="#000" stroke-width="1.05" stroke-linejoin="round"/>
<path d="M438.02 190.7L440.52 195.3L435.52 195.3Z" fill="#fff" stroke="#000" stroke-width="1.05" stroke-linejoin="round"/>
<path d="M443.49 190.7L445.99 195.3L440.99 195.3Z" fill="#fff" stroke="#000" stroke-width="1.05" stroke-linejoin="round"/>
<path d="M448.96 314.9L451.46 319.5L446.46 319.5Z" fill="#fff" stroke="#000" stroke-width="1.05" stroke-linejoin="round"/>
<path d="M454.43 314.9L456.93 319.5L451.93 319.5Z" fill="#fff" stroke="#000" stroke-width="1.05" stroke-linejoin="round"/>
<path d="M459.9 314.9L462.4 319.5L457.4 319.5Z" fill="#fff" stroke="#000" stroke-width="1.05" stroke-linejoin="round"/>
<path d="M465.36 314.9L467.86 319.5L462.86 319.5Z" fill="#fff" stroke="#000" stroke-width="1.05" stroke-linejoin="round"/>
<path d="M470.83 314.9L473.33 319.5L468.33 319.5Z" fill="#fff" stroke="#000" stroke-width="1.05" stroke-linejoin="round"/>
<path d="M476.3 314.9L478.8 319.5L473.8 319.5Z" fill="#fff" stroke="#000" stroke-width="1.05" stroke-linejoin="round"/>
<path d="M481.77 314.9L484.27 319.5L479.27 319.5Z" fill="#fff" stroke="#000" stroke-width="1.05" stroke-linejoin="round"/>
<path d="M487.24 377L489.74 381.6L484.74 381.6Z" fill="#fff" stroke="#000" stroke-width="1.05" stroke-linejoin="round"/>
<path d="M66.2 68.5 L71.67 68.5 L77.14 68.5 L82.6 68.5 L88.07 68.5 L93.54 68.5 L99.01 68.5 L104.48 68.5 L109.94 68.5 L115.41 68.5 L120.88 68.5 L126.35 68.5 L131.82 68.5 L137.28 68.5 L142.75 68.5 L148.22 68.5 L153.69 68.5 L159.16 68.5 L164.62 68.5 L170.09 68.5 L175.56 68.5 L181.03 68.5 L186.5 68.5 L191.96 68.5 L197.43 68.5 L202.9 68.5 L208.37 68.5 L213.84 68.5 L219.3 68.5 L224.77 68.5 L230.24 68.5 L235.71 68.5 L241.18 68.5 L246.64 68.5 L252.11 68.5 L257.58 68.5 L263.05 68.5 L268.52 68.5 L273.98 68.5 L279.45 68.5 L284.92 68.5 L290.39 68.5 L295.86 68.5 L301.32 68.5 L306.79 68.5 L312.26 68.5 L317.73 68.5 L323.2 68.5 L328.66 68.5 L334.13 68.5 L339.6 68.5 L345.07 68.5 L350.54 68.5 L356 68.5 L361.47 68.5 L366.94 68.5 L372.41 68.5 L377.88 68.5 L383.34 68.5 L388.81 68.5 L394.28 68.5 L399.75 68.5 L405.22 68.5 L410.68 68.5 L416.15 68.5 L421.62 68.5 L427.09 68.5 L432.56 130.6 L438.02 130.6 L443.49 130.6 L448.96 130.6 L454.43 130.6 L459.9 130.6 L465.36 130.6 L470.83 130.6 L476.3 130.6 L481.77 130.6 L487.24 130.6 L492.7 130.6 L498.17 130.6 L503.64 130.6 L509.11 130.6 L514.58 130.6 L520.04 130.6 L525.51 130.6 L530.98 130.6 L536.45 130.6 L541.92 130.6 L547.38 130.6 L552.85 130.6 L558.32 130.6 L563.79 130.6 L569.26 130.6 L574.72 130.6 L580.19 130.6 L585.66 130.6 L591.13 130.6 L596.6 130.6 L602.06 130.6 L607.53 130.6" fill="none" stroke="#858585" stroke-width="1.8"/>
<rect x="64.05" y="66.35" width="4.3" height="4.3" rx="0.9" fill="#686868"/>
<rect x="69.52" y="66.35" width="4.3" height="4.3" rx="0.9" fill="#686868"/>
<rect x="74.99" y="66.35" width="4.3" height="4.3" rx="0.9" fill="#686868"/>
<rect x="80.45" y="66.35" width="4.3" height="4.3" rx="0.9" fill="#686868"/>
<rect x="85.92" y="66.35" width="4.3" height="4.3" rx="0.9" fill="#686868"/>
<rect x="91.39" y="66.35" width="4.3" height="4.3" rx="0.9" fill="#686868"/>
<rect x="96.86" y="66.35" width="4.3" height="4.3" rx="0.9" fill="#686868"/>
<rect x="102.33" y="66.35" width="4.3" height="4.3" rx="0.9" fill="#686868"/>
<rect x="107.79" y="66.35" width="4.3" height="4.3" rx="0.9" fill="#686868"/>
<rect x="113.26" y="66.35" width="4.3" height="4.3" rx="0.9" fill="#686868"/>
<rect x="118.73" y="66.35" width="4.3" height="4.3" rx="0.9" fill="#686868"/>
<rect x="124.2" y="66.35" width="4.3" height="4.3" rx="0.9" fill="#686868"/>
<rect x="129.67" y="66.35" width="4.3" height="4.3" rx="0.9" fill="#686868"/>
<rect x="135.13" y="66.35" width="4.3" height="4.3" rx="0.9" fill="#686868"/>
<rect x="140.6" y="66.35" width="4.3" height="4.3" rx="0.9" fill="#686868"/>
<rect x="146.07" y="66.35" width="4.3" height="4.3" rx="0.9" fill="#686868"/>
<rect x="151.54" y="66.35" width="4.3" height="4.3" rx="0.9" fill="#686868"/>
<rect x="157.01" y="66.35" width="4.3" height="4.3" rx="0.9" fill="#686868"/>
<rect x="162.47" y="66.35" width="4.3" height="4.3" rx="0.9" fill="#686868"/>
<rect x="167.94" y="66.35" width="4.3" height="4.3" rx="0.9" fill="#686868"/>
<rect x="173.41" y="66.35" width="4.3" height="4.3" rx="0.9" fill="#686868"/>
<rect x="178.88" y="66.35" width="4.3" height="4.3" rx="0.9" fill="#686868"/>
<rect x="184.35" y="66.35" width="4.3" height="4.3" rx="0.9" fill="#686868"/>
<rect x="189.81" y="66.35" width="4.3" height="4.3" rx="0.9" fill="#686868"/>
<rect x="195.28" y="66.35" width="4.3" height="4.3" rx="0.9" fill="#686868"/>
<rect x="200.75" y="66.35" width="4.3" height="4.3" rx="0.9" fill="#686868"/>
<rect x="206.22" y="66.35" width="4.3" height="4.3" rx="0.9" fill="#686868"/>
<rect x="211.69" y="66.35" width="4.3" height="4.3" rx="0.9" fill="#686868"/>
<rect x="217.15" y="66.35" width="4.3" height="4.3" rx="0.9" fill="#686868"/>
<rect x="222.62" y="66.35" width="4.3" height="4.3" rx="0.9" fill="#686868"/>
<rect x="228.09" y="66.35" width="4.3" height="4.3" rx="0.9" fill="#686868"/>
<rect x="233.56" y="66.35" width="4.3" height="4.3" rx="0.9" fill="#686868"/>
<rect x="239.03" y="66.35" width="4.3" height="4.3" rx="0.9" fill="#686868"/>
<rect x="244.49" y="66.35" width="4.3" height="4.3" rx="0.9" fill="#686868"/>
<rect x="249.96" y="66.35" width="4.3" height="4.3" rx="0.9" fill="#686868"/>
<rect x="255.43" y="66.35" width="4.3" height="4.3" rx="0.9" fill="#686868"/>
<rect x="260.9" y="66.35" width="4.3" height="4.3" rx="0.9" fill="#686868"/>
<rect x="266.37" y="66.35" width="4.3" height="4.3" rx="0.9" fill="#686868"/>
<rect x="271.83" y="66.35" width="4.3" height="4.3" rx="0.9" fill="#686868"/>
<rect x="277.3" y="66.35" width="4.3" height="4.3" rx="0.9" fill="#686868"/>
<rect x="282.77" y="66.35" width="4.3" height="4.3" rx="0.9" fill="#686868"/>
<rect x="288.24" y="66.35" width="4.3" height="4.3" rx="0.9" fill="#686868"/>
<rect x="293.71" y="66.35" width="4.3" height="4.3" rx="0.9" fill="#686868"/>
<rect x="299.17" y="66.35" width="4.3" height="4.3" rx="0.9" fill="#686868"/>
<rect x="304.64" y="66.35" width="4.3" height="4.3" rx="0.9" fill="#686868"/>
<rect x="310.11" y="66.35" width="4.3" height="4.3" rx="0.9" fill="#686868"/>
<rect x="315.58" y="66.35" width="4.3" height="4.3" rx="0.9" fill="#686868"/>
<rect x="321.05" y="66.35" width="4.3" height="4.3" rx="0.9" fill="#686868"/>
<rect x="326.51" y="66.35" width="4.3" height="4.3" rx="0.9" fill="#686868"/>
<rect x="331.98" y="66.35" width="4.3" height="4.3" rx="0.9" fill="#686868"/>
<rect x="337.45" y="66.35" width="4.3" height="4.3" rx="0.9" fill="#686868"/>
<rect x="342.92" y="66.35" width="4.3" height="4.3" rx="0.9" fill="#686868"/>
<rect x="348.39" y="66.35" width="4.3" height="4.3" rx="0.9" fill="#686868"/>
<rect x="353.85" y="66.35" width="4.3" height="4.3" rx="0.9" fill="#686868"/>
<rect x="359.32" y="66.35" width="4.3" height="4.3" rx="0.9" fill="#686868"/>
<rect x="364.79" y="66.35" width="4.3" height="4.3" rx="0.9" fill="#686868"/>
<rect x="370.26" y="66.35" width="4.3" height="4.3" rx="0.9" fill="#686868"/>
<rect x="375.73" y="66.35" width="4.3" height="4.3" rx="0.9" fill="#686868"/>
<rect x="381.19" y="66.35" width="4.3" height="4.3" rx="0.9" fill="#686868"/>
<rect x="386.66" y="66.35" width="4.3" height="4.3" rx="0.9" fill="#686868"/>
<rect x="392.13" y="66.35" width="4.3" height="4.3" rx="0.9" fill="#686868"/>
<rect x="397.6" y="66.35" width="4.3" height="4.3" rx="0.9" fill="#686868"/>
<rect x="403.07" y="66.35" width="4.3" height="4.3" rx="0.9" fill="#686868"/>
<rect x="408.53" y="66.35" width="4.3" height="4.3" rx="0.9" fill="#686868"/>
<rect x="414" y="66.35" width="4.3" height="4.3" rx="0.9" fill="#686868"/>
<rect x="419.47" y="66.35" width="4.3" height="4.3" rx="0.9" fill="#686868"/>
<rect x="424.94" y="66.35" width="4.3" height="4.3" rx="0.9" fill="#686868"/>
<rect x="430.41" y="128.45" width="4.3" height="4.3" rx="0.9" fill="#686868"/>
<rect x="435.87" y="128.45" width="4.3" height="4.3" rx="0.9" fill="#686868"/>
<rect x="441.34" y="128.45" width="4.3" height="4.3" rx="0.9" fill="#686868"/>
<rect x="446.81" y="128.45" width="4.3" height="4.3" rx="0.9" fill="#686868"/>
<rect x="452.28" y="128.45" width="4.3" height="4.3" rx="0.9" fill="#686868"/>
<rect x="457.75" y="128.45" width="4.3" height="4.3" rx="0.9" fill="#686868"/>
<rect x="463.21" y="128.45" width="4.3" height="4.3" rx="0.9" fill="#686868"/>
<rect x="468.68" y="128.45" width="4.3" height="4.3" rx="0.9" fill="#686868"/>
<rect x="474.15" y="128.45" width="4.3" height="4.3" rx="0.9" fill="#686868"/>
<rect x="479.62" y="128.45" width="4.3" height="4.3" rx="0.9" fill="#686868"/>
<rect x="485.09" y="128.45" width="4.3" height="4.3" rx="0.9" fill="#686868"/>
<rect x="490.55" y="128.45" width="4.3" height="4.3" rx="0.9" fill="#686868"/>
<rect x="496.02" y="128.45" width="4.3" height="4.3" rx="0.9" fill="#686868"/>
<rect x="501.49" y="128.45" width="4.3" height="4.3" rx="0.9" fill="#686868"/>
<rect x="506.96" y="128.45" width="4.3" height="4.3" rx="0.9" fill="#686868"/>
<rect x="512.43" y="128.45" width="4.3" height="4.3" rx="0.9" fill="#686868"/>
<rect x="517.89" y="128.45" width="4.3" height="4.3" rx="0.9" fill="#686868"/>
<rect x="523.36" y="128.45" width="4.3" height="4.3" rx="0.9" fill="#686868"/>
<rect x="528.83" y="128.45" width="4.3" height="4.3" rx="0.9" fill="#686868"/>
<rect x="534.3" y="128.45" width="4.3" height="4.3" rx="0.9" fill="#686868"/>
<rect x="539.77" y="128.45" width="4.3" height="4.3" rx="0.9" fill="#686868"/>
<rect x="545.23" y="128.45" width="4.3" height="4.3" rx="0.9" fill="#686868"/>
<rect x="550.7" y="128.45" width="4.3" height="4.3" rx="0.9" fill="#686868"/>
<rect x="556.17" y="128.45" width="4.3" height="4.3" rx="0.9" fill="#686868"/>
<rect x="561.64" y="128.45" width="4.3" height="4.3" rx="0.9" fill="#686868"/>
<rect x="567.11" y="128.45" width="4.3" height="4.3" rx="0.9" fill="#686868"/>
<rect x="572.57" y="128.45" width="4.3" height="4.3" rx="0.9" fill="#686868"/>
<rect x="578.04" y="128.45" width="4.3" height="4.3" rx="0.9" fill="#686868"/>
<rect x="583.51" y="128.45" width="4.3" height="4.3" rx="0.9" fill="#686868"/>
<rect x="588.98" y="128.45" width="4.3" height="4.3" rx="0.9" fill="#686868"/>
<rect x="594.45" y="128.45" width="4.3" height="4.3" rx="0.9" fill="#686868"/>
<rect x="599.91" y="128.45" width="4.3" height="4.3" rx="0.9" fill="#686868"/>
<rect x="605.38" y="128.45" width="4.3" height="4.3" rx="0.9" fill="#686868"/>
<path d="M66.2 68.5 L71.67 68.5 L77.14 68.5 L82.6 68.5 L88.07 68.5 L93.54 68.5 L99.01 68.5 L104.48 68.5 L109.94 68.5 L115.41 68.5 L120.88 68.5 L126.35 68.5 L131.82 68.5 L137.28 68.5 L142.75 68.5 L148.22 68.5 L153.69 68.5 L159.16 68.5 L164.62 68.5 L170.09 68.5 L175.56 68.5 L181.03 68.5 L186.5 68.5 L191.96 68.5 L197.43 68.5 L202.9 68.5 L208.37 68.5 L213.84 68.5 L219.3 68.5 L224.77 68.5 L230.24 68.5 L235.71 68.5 L241.18 68.5 L246.64 68.5 L252.11 68.5 L257.58 68.5 L263.05 68.5 L268.52 68.5 L273.98 68.5 L279.45 68.5 L284.92 68.5 L290.39 68.5 L295.86 68.5 L301.32 68.5 L306.79 68.5 L312.26 68.5 L317.73 68.5 L323.2 68.5 L328.66 68.5 L334.13 68.5 L339.6 68.5 L345.07 68.5 L350.54 68.5 L356 68.5 L361.47 68.5 L366.94 130.6 L372.41 130.6 L377.88 130.6 L383.34 130.6 L388.81 130.6 L394.28 130.6 L399.75 130.6 L405.22 130.6 L410.68 130.6 L416.15 130.6 L421.62 192.7 L427.09 192.7 L432.56 192.7 L438.02 192.7 L443.49 192.7 L448.96 192.7 L454.43 192.7 L459.9 254.8 L465.36 254.8 L470.83 254.8 L476.3 254.8 L481.77 254.8 L487.24 316.9 L492.7 316.9 L498.17 316.9 L503.64 316.9 L509.11 316.9 L514.58 316.9 L520.04 316.9 L525.51 316.9 L530.98 316.9 L536.45 316.9 L541.92 316.9 L547.38 316.9 L552.85 379" fill="none" stroke="#000" stroke-width="2.0"/>
<path d="M66.2 68.5 L71.67 68.5 L77.14 68.5 L82.6 68.5 L88.07 68.5 L93.54 68.5 L99.01 68.5 L104.48 68.5 L109.94 68.5 L115.41 68.5 L120.88 68.5 L126.35 68.5 L131.82 68.5 L137.28 68.5 L142.75 68.5 L148.22 68.5 L153.69 68.5 L159.16 68.5 L164.62 68.5 L170.09 68.5 L175.56 68.5 L181.03 68.5 L186.5 68.5 L191.96 68.5 L197.43 68.5 L202.9 68.5 L208.37 68.5 L213.84 68.5 L219.3 68.5 L224.77 68.5 L230.24 68.5 L235.71 68.5 L241.18 68.5 L246.64 68.5 L252.11 68.5 L257.58 68.5 L263.05 68.5 L268.52 68.5 L273.98 68.5 L279.45 68.5 L284.92 68.5 L290.39 68.5 L295.86 68.5 L301.32 68.5 L306.79 68.5 L312.26 68.5 L317.73 68.5 L323.2 68.5 L328.66 68.5 L334.13 68.5 L339.6 68.5 L345.07 68.5 L350.54 68.5 L356 68.5 L361.47 68.5 L366.94 68.5 L372.41 68.5 L377.88 68.5 L383.34 68.5 L388.81 68.5 L394.28 68.5 L399.75 68.5 L405.22 68.5 L410.68 68.5 L416.15 68.5 L421.62 68.5 L427.09 68.5 L432.56 68.5 L438.02 68.5 L443.49 68.5 L448.96 68.5 L454.43 68.5 L459.9 68.5 L465.36 68.5 L470.83 68.5 L476.3 68.5 L481.77 68.5 L487.24 68.5 L492.7 68.5 L498.17 68.5 L503.64 68.5 L509.11 68.5 L514.58 68.5 L520.04 68.5 L525.51 68.5 L530.98 68.5 L536.45 68.5 L541.92 68.5 L547.38 68.5 L552.85 68.5 L558.32 130.6 L563.79 130.6 L569.26 130.6 L574.72 130.6 L580.19 130.6 L585.66 130.6 L591.13 130.6 L596.6 130.6 L602.06 130.6 L607.53 130.6" fill="none" stroke="#000" stroke-width="2.2"/>
<circle cx="66.2" cy="68.5" r="2.3" fill="#000"/>
<circle cx="71.67" cy="68.5" r="2.3" fill="#000"/>
<circle cx="77.14" cy="68.5" r="2.3" fill="#000"/>
<circle cx="82.6" cy="68.5" r="2.3" fill="#000"/>
<circle cx="88.07" cy="68.5" r="2.3" fill="#000"/>
<circle cx="93.54" cy="68.5" r="2.3" fill="#000"/>
<circle cx="99.01" cy="68.5" r="2.3" fill="#000"/>
<circle cx="104.48" cy="68.5" r="2.3" fill="#000"/>
<circle cx="109.94" cy="68.5" r="2.3" fill="#000"/>
<circle cx="115.41" cy="68.5" r="2.3" fill="#000"/>
<circle cx="120.88" cy="68.5" r="2.3" fill="#000"/>
<circle cx="126.35" cy="68.5" r="2.3" fill="#000"/>
<circle cx="131.82" cy="68.5" r="2.3" fill="#000"/>
<circle cx="137.28" cy="68.5" r="2.3" fill="#000"/>
<circle cx="142.75" cy="68.5" r="2.3" fill="#000"/>
<circle cx="148.22" cy="68.5" r="2.3" fill="#000"/>
<circle cx="153.69" cy="68.5" r="2.3" fill="#000"/>
<circle cx="159.16" cy="68.5" r="2.3" fill="#000"/>
<circle cx="164.62" cy="68.5" r="2.3" fill="#000"/>
<circle cx="170.09" cy="68.5" r="2.3" fill="#000"/>
<circle cx="175.56" cy="68.5" r="2.3" fill="#000"/>
<circle cx="181.03" cy="68.5" r="2.3" fill="#000"/>
<circle cx="186.5" cy="68.5" r="2.3" fill="#000"/>
<circle cx="191.96" cy="68.5" r="2.3" fill="#000"/>
<circle cx="197.43" cy="68.5" r="2.3" fill="#000"/>
<circle cx="202.9" cy="68.5" r="2.3" fill="#000"/>
<circle cx="208.37" cy="68.5" r="2.3" fill="#000"/>
<circle cx="213.84" cy="68.5" r="2.3" fill="#000"/>
<circle cx="219.3" cy="68.5" r="2.3" fill="#000"/>
<circle cx="224.77" cy="68.5" r="2.3" fill="#000"/>
<circle cx="230.24" cy="68.5" r="2.3" fill="#000"/>
<circle cx="235.71" cy="68.5" r="2.3" fill="#000"/>
<circle cx="241.18" cy="68.5" r="2.3" fill="#000"/>
<circle cx="246.64" cy="68.5" r="2.3" fill="#000"/>
<circle cx="252.11" cy="68.5" r="2.3" fill="#000"/>
<circle cx="257.58" cy="68.5" r="2.3" fill="#000"/>
<circle cx="263.05" cy="68.5" r="2.3" fill="#000"/>
<circle cx="268.52" cy="68.5" r="2.3" fill="#000"/>
<circle cx="273.98" cy="68.5" r="2.3" fill="#000"/>
<circle cx="279.45" cy="68.5" r="2.3" fill="#000"/>
<circle cx="284.92" cy="68.5" r="2.3" fill="#000"/>
<circle cx="290.39" cy="68.5" r="2.3" fill="#000"/>
<circle cx="295.86" cy="68.5" r="2.3" fill="#000"/>
<circle cx="301.32" cy="68.5" r="2.3" fill="#000"/>
<circle cx="306.79" cy="68.5" r="2.3" fill="#000"/>
<circle cx="312.26" cy="68.5" r="2.3" fill="#000"/>
<circle cx="317.73" cy="68.5" r="2.3" fill="#000"/>
<circle cx="323.2" cy="68.5" r="2.3" fill="#000"/>
<circle cx="328.66" cy="68.5" r="2.3" fill="#000"/>
<circle cx="334.13" cy="68.5" r="2.3" fill="#000"/>
<circle cx="339.6" cy="68.5" r="2.3" fill="#000"/>
<circle cx="345.07" cy="68.5" r="2.3" fill="#000"/>
<circle cx="350.54" cy="68.5" r="2.3" fill="#000"/>
<circle cx="356" cy="68.5" r="2.3" fill="#000"/>
<circle cx="361.47" cy="68.5" r="2.3" fill="#000"/>
<circle cx="366.94" cy="68.5" r="2.3" fill="#000"/>
<circle cx="372.41" cy="68.5" r="2.3" fill="#000"/>
<circle cx="377.88" cy="68.5" r="2.3" fill="#000"/>
<circle cx="383.34" cy="68.5" r="2.3" fill="#000"/>
<circle cx="388.81" cy="68.5" r="2.3" fill="#000"/>
<circle cx="394.28" cy="68.5" r="2.3" fill="#000"/>
<circle cx="399.75" cy="68.5" r="2.3" fill="#000"/>
<circle cx="405.22" cy="68.5" r="2.3" fill="#000"/>
<circle cx="410.68" cy="68.5" r="2.3" fill="#000"/>
<circle cx="416.15" cy="68.5" r="2.3" fill="#000"/>
<circle cx="421.62" cy="68.5" r="2.3" fill="#000"/>
<circle cx="427.09" cy="68.5" r="2.3" fill="#000"/>
<circle cx="432.56" cy="68.5" r="2.3" fill="#000"/>
<circle cx="438.02" cy="68.5" r="2.3" fill="#000"/>
<circle cx="443.49" cy="68.5" r="2.3" fill="#000"/>
<circle cx="448.96" cy="68.5" r="2.3" fill="#000"/>
<circle cx="454.43" cy="68.5" r="2.3" fill="#000"/>
<circle cx="459.9" cy="68.5" r="2.3" fill="#000"/>
<circle cx="465.36" cy="68.5" r="2.3" fill="#000"/>
<circle cx="470.83" cy="68.5" r="2.3" fill="#000"/>
<circle cx="476.3" cy="68.5" r="2.3" fill="#000"/>
<circle cx="481.77" cy="68.5" r="2.3" fill="#000"/>
<circle cx="487.24" cy="68.5" r="2.3" fill="#000"/>
<circle cx="492.7" cy="68.5" r="2.3" fill="#000"/>
<circle cx="498.17" cy="68.5" r="2.3" fill="#000"/>
<circle cx="503.64" cy="68.5" r="2.3" fill="#000"/>
<circle cx="509.11" cy="68.5" r="2.3" fill="#000"/>
<circle cx="514.58" cy="68.5" r="2.3" fill="#000"/>
<circle cx="520.04" cy="68.5" r="2.3" fill="#000"/>
<circle cx="525.51" cy="68.5" r="2.3" fill="#000"/>
<circle cx="530.98" cy="68.5" r="2.3" fill="#000"/>
<circle cx="536.45" cy="68.5" r="2.3" fill="#000"/>
<circle cx="541.92" cy="68.5" r="2.3" fill="#000"/>
<circle cx="547.38" cy="68.5" r="2.3" fill="#000"/>
<circle cx="552.85" cy="68.5" r="2.3" fill="#000"/>
<circle cx="558.32" cy="130.6" r="2.3" fill="#000"/>
<circle cx="563.79" cy="130.6" r="2.3" fill="#000"/>
<circle cx="569.26" cy="130.6" r="2.3" fill="#000"/>
<circle cx="574.72" cy="130.6" r="2.3" fill="#000"/>
<circle cx="580.19" cy="130.6" r="2.3" fill="#000"/>
<circle cx="585.66" cy="130.6" r="2.3" fill="#000"/>
<circle cx="591.13" cy="130.6" r="2.3" fill="#000"/>
<circle cx="596.6" cy="130.6" r="2.3" fill="#000"/>
<circle cx="602.06" cy="130.6" r="2.3" fill="#000"/>
<circle cx="607.53" cy="130.6" r="2.3" fill="#000"/>
<line x1="121.7" y1="114.6" x2="144" y2="114.6" stroke="#777777" stroke-width="1.6" stroke-dasharray="6.8 14.4 1.6 40"/>
<path d="M132.8 111.55L136.05 114.6L132.8 117.65L129.55 114.6Z" fill="#000"/>
<line x1="121.4" y1="148.6" x2="143.8" y2="148.6" stroke="#8c8c8c" stroke-width="1.6" stroke-dasharray="1.8 1.8"/>
<rect x="129.95" y="145.75" width="5.7" height="5.7" fill="#9c9c9c"/>
<line x1="121.4" y1="182" x2="143.8" y2="182" stroke="#8c8c8c" stroke-width="1.8" />
<path d="M132.8 180L135.3 184.6L130.3 184.6Z" fill="#fff" stroke="#000" stroke-width="1.05" stroke-linejoin="round"/>
<line x1="121.4" y1="215.4" x2="143.8" y2="215.4" stroke="#858585" stroke-width="1.8" />
<rect x="130.65" y="213.25" width="4.3" height="4.3" rx="0.9" fill="#686868"/>
<line x1="121.4" y1="249" x2="143.8" y2="249" stroke="#000" stroke-width="2.1" />
<line x1="121.4" y1="282.2" x2="143.8" y2="282.2" stroke="#000" stroke-width="1.8" />
<circle cx="132.8" cy="282.2" r="2.3" fill="#000"/>
<text x="145.7" y="119.7" font-size="12.2" fill="#1e1e1e" stroke="#1e1e1e" stroke-width="0.2" textLength="51.3" lengthAdjust="spacingAndGlyphs">CONTROL</text>
<text x="145.7" y="152.9" font-size="12.2" fill="#1e1e1e" stroke="#1e1e1e" stroke-width="0.2" textLength="60" lengthAdjust="spacingAndGlyphs">AdCMVGFP</text>
<text x="145.7" y="187.3" font-size="12.2" fill="#1e1e1e" stroke="#1e1e1e" stroke-width="0.2" textLength="62.5" lengthAdjust="spacingAndGlyphs">AdE2mIL-12</text>
<text x="145.7" y="220.8" font-size="12.2" fill="#1e1e1e" stroke="#1e1e1e" stroke-width="0.2" textLength="75.5" lengthAdjust="spacingAndGlyphs">AdCMVmIL-12</text>
<text x="145.7" y="254.1" font-size="12.2" fill="#1e1e1e" stroke="#1e1e1e" stroke-width="0.2" textLength="88" lengthAdjust="spacingAndGlyphs">AdCMVE2HPV16</text>
<text x="145.7" y="287.9" font-size="12.2" fill="#1e1e1e" stroke="#1e1e1e" stroke-width="0.2" textLength="67.3" lengthAdjust="spacingAndGlyphs">AdE2mIL-12/</text>
<text x="145.7" y="302.5" font-size="12.2" fill="#1e1e1e" stroke="#1e1e1e" stroke-width="0.2" textLength="88" lengthAdjust="spacingAndGlyphs">AdCMVE2HPV16</text>
</svg></body></html>
